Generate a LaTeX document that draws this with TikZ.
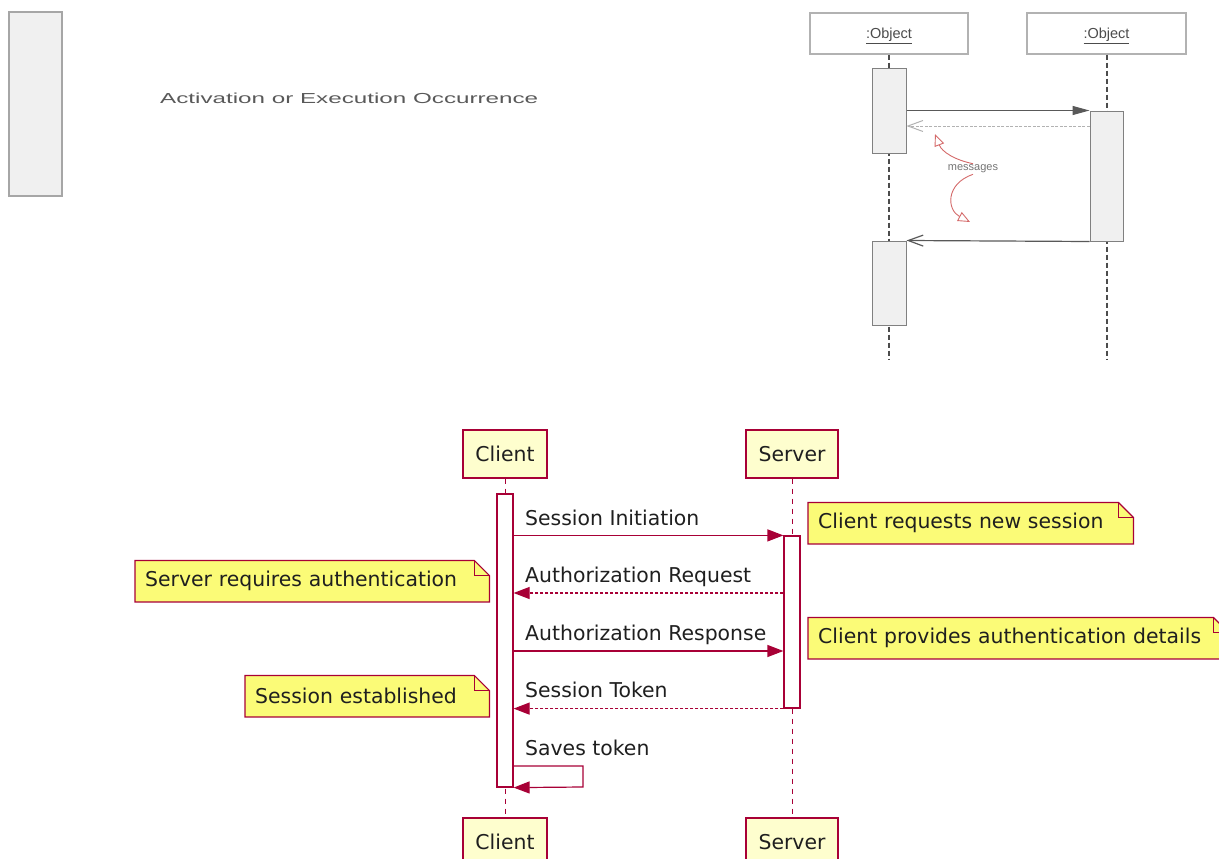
\documentclass[tikz,border=0pt]{standalone}
\usepackage{fontspec}
\usepackage{graphicx}
\usetikzlibrary{arrows.meta,calc,backgrounds}
\newfontfamily\dvs{DejaVu Sans}
\newfontfamily\lib{Liberation Sans}
\definecolor{pred}{HTML}{A80036}
\definecolor{pfill}{HTML}{FEFECE}
\definecolor{nfill}{HTML}{FBFB77}
\definecolor{lgray}{HTML}{F0F0F0}
\definecolor{redann}{HTML}{D46A6A}
\newcommand\notedraw[1]{%
  \draw[noteshape] (#1.north west) -- ($(#1.north east)+(-15,0)$) -- ($(#1.north east)+(0,15)$) -- (#1.south east) -- (#1.south west) -- cycle;
  \draw[noteshape, fill=none] ($(#1.north east)+(-15,0)$) -- ($(#1.north east)+(-15,15)$) -- ($(#1.north east)+(0,15)$);
}
\begin{document}
\begin{tikzpicture}[x=1pt,y=-1pt,
  umlfont/.style={font=\dvs\fontsize{20.4}{24}\selectfont, text=black!88},
  part/.style={umlfont, draw=pred, line width=1.3pt, fill=pfill, minimum width=#1, minimum height=48pt, inner sep=0pt},
  life/.style={draw=pred, line width=1pt, dash pattern=on 5pt off 5pt},
  actbar/.style={draw=pred, line width=1.2pt, fill=white, minimum width=16pt, minimum height=#1, inner sep=0pt},
  msg/.style={draw=pred, line width=1.2pt, -{Triangle[length=16pt,width=12pt]}},
  reply/.style={msg, dash pattern=on 3pt off 2pt},
  lbl/.style={umlfont, inner sep=0pt, anchor=base west},
  notetxt/.style={umlfont, inner xsep=10pt, inner ysep=0pt, minimum height=41pt, anchor=north west, align=left, text width=#1},
  noteshape/.style={draw=pred, line width=1.2pt, fill=nfill},
  objbox/.style={draw=black!30, line width=1.2pt, fill=white, minimum width=#1, minimum height=41pt, inner sep=0pt},
  objtxt/.style={inner sep=0pt, anchor=base, font=\lib\fontsize{14.5}{17}\selectfont, text=black!70},
  olife/.style={draw=black!70, line width=2pt, dash pattern=on 5pt off 3pt},
  oact/.style={draw=black!50, line width=1pt, fill=lgray, minimum width=34pt, minimum height=#1, inner sep=0pt},
  redarr/.style={draw=redann, line width=0.9pt, -{Triangle[open, length=12pt, width=10pt]}}
]
\useasboundingbox (0,0) rectangle (1219,859);
\clip (0,0) rectangle (1219,859);

% ---------- legend ----------
\node[draw=black!35, line width=1.8pt, fill=lgray, minimum width=53pt, minimum height=184pt, inner sep=0pt] (leg) at (35.5,104) {};
\node[anchor=base west, inner sep=0pt, text=black!65] (legtxt) at (160,103) {\resizebox{378pt}{10.5pt}{\lib Activation or Execution Occurrence}};

% ---------- top-right sequence ----------
\node[objbox=158pt] (o1) at (889,33.5) {};
\node[objbox=159pt] (o2) at (1106.5,33.5) {};
\node[objtxt] (o1t) at (889,39) {\underline{:Object}};
\node[objtxt] (o2t) at (1106.5,39) {\underline{:Object}};
\coordinate (e1) at (889,360);
\coordinate (e2) at (1106.5,360);
\draw[olife] (o1.south) -- (e1);
\draw[olife] (o2.south) -- (e2);
\node[oact=84pt] (a1) at (889,111) {};
\node[oact=84pt] (a2) at (889,283) {};
\node[oact=130pt, minimum width=33pt] (a3) at (1106.5,176) {};
\coordinate (r2) at (0,126);
\draw[draw=black!65, line width=1.2pt, -{Triangle[length=17pt,width=9pt]}] (a1.east |- a3.north) -- (a3.north west);
\draw[draw=black!30, line width=1pt, dash pattern=on 3pt off 1.5pt, -{Straight Barb[length=15pt,width=11pt]}] (a3.west |- r2) -- (a1.east |- r2);
\draw[draw=black!65, line width=1.2pt, -{Straight Barb[length=15pt,width=11pt]}] (a3.south west) -- (a2.north east);
\node[inner sep=1pt, font=\lib\fontsize{11}{13}\selectfont, text=black!55] (msgl) at (973,169) {messages};
\draw[redarr] (msgl.north) .. controls (955,160) and (942,152) .. (935,134);
\draw[redarr] (msgl.south) .. controls (945,184) and (947,210) .. (970,222);

% ---------- bottom sequence ----------
\node[part=84pt] (cT) at (505,454) {Client};
\node[part=92pt] (sT) at (792,454) {Server};
\node[part=84pt] (cB) at (505,842) {Client};
\node[part=92pt] (sB) at (792,842) {Server};
\draw[life] (cT.south) -- (cB.north);
\draw[life] (sT.south) -- (sB.north);
\node[actbar=293pt] (ca) at (505,640.5) {};
\node[actbar=172pt] (sa) at (792,622) {};

\coordinate (y2) at (0,593);
\coordinate (y3) at (0,651);
\coordinate (sl1) at (583,766);
\coordinate (sl2) at (583,787);

\draw[msg] (ca.east |- sa.north west) -- (sa.north west);
\draw[reply] (sa.west |- y2) -- (ca.east |- y2);
\draw[msg] (ca.east |- y3) -- (sa.west |- y3);
\draw[reply] (sa.south west) -- (ca.east |- sa.south west);
\draw[msg] (ca.east |- sl1) -- (sl1) -- (sl2) -- (ca.south east);

\node[lbl] (l1) at (525,525) {Session Initiation};
\node[lbl] (l2) at (525,582) {Authorization Request};
\node[lbl] (l3) at (525,640) {Authorization Response};
\node[lbl] (l4) at (525,697) {Session Token};
\node[lbl] (l5) at (525,755) {Saves token};

% notes
\node[notetxt=305pt] (n1) at (808,502.5) {Client requests new session};
\node[notetxt=334pt] (n2) at (135,560.5) {Server requires authentication};
\node[notetxt=400pt] (n3) at (808,617.5) {Client provides authentication details};
\node[notetxt=224pt] (n4) at (245,675.5) {Session established};
\begin{scope}[on background layer]
  \notedraw{n1}
  \notedraw{n2}
  \notedraw{n3}
  \notedraw{n4}
\end{scope}
\end{tikzpicture}
\end{document}
